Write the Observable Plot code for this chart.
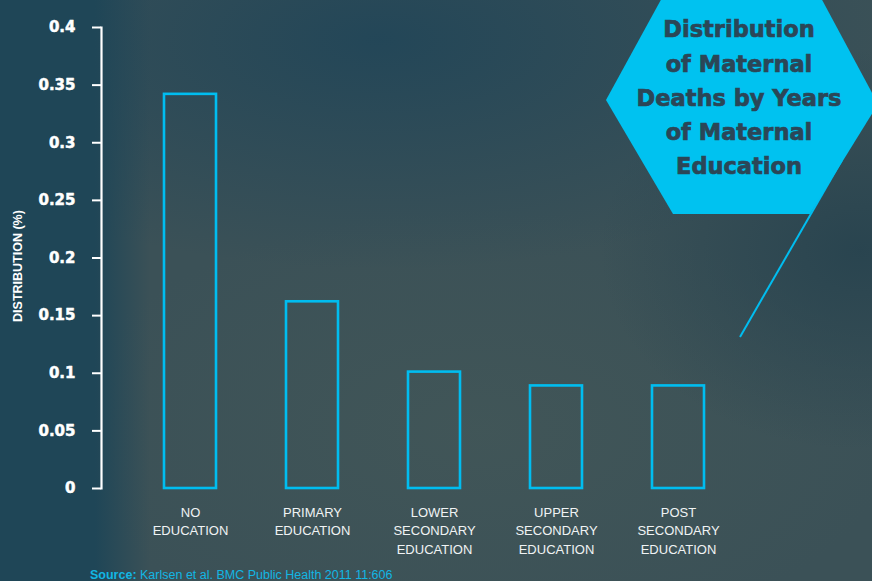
<!DOCTYPE html>
<html>
<head>
<meta charset="utf-8">
<script src="https://cdn.jsdelivr.net/npm/d3@7"></script>
<script src="https://cdn.jsdelivr.net/npm/@observablehq/plot@0.6"></script>
<style>
  html, body { margin: 0; padding: 0; }
  body { width: 872px; height: 581px; overflow: hidden; }
  #wrap {
    position: relative; width: 872px; height: 581px; overflow: hidden;
    background:
      linear-gradient(to right, #1f4657 0px, #1f4657 95px, rgba(31,70,87,0) 150px),
      radial-gradient(ellipse 520px 230px at 380px 40px, rgba(34,70,88,0.95), rgba(34,70,88,0)),
      radial-gradient(ellipse 260px 200px at 860px 250px, rgba(38,66,78,0.85), rgba(38,66,78,0)),
      radial-gradient(ellipse 420px 220px at 480px 430px, rgba(68,88,88,0.65), rgba(68,88,88,0)),
      #3b5157;
  }
  #chart { position: absolute; left: 0; top: 0; }
  #overlay { position: absolute; left: 0; top: 0; }
  #source {
    position: absolute; left: 90px; top: 568px;
    font: 12.5px "Liberation Sans", Arial, sans-serif; color: #12b6e4; white-space: nowrap;
  }
  #source b { font-weight: bold; }
</style>
</head>
<body>
<div id="wrap">
  <div id="chart"></div>
  <svg id="overlay" width="872" height="581"></svg>
  <div id="source"><b>Source:</b> Karlsen et al. BMC Public Health 2011 11:606</div>
</div>
<script>
const categories = ["NO EDUCATION", "PRIMARY EDUCATION", "LOWER SECONDARY EDUCATION", "UPPER SECONDARY EDUCATION", "POST SECONDARY EDUCATION"];
const tickLabels = ["NO\nEDUCATION", "PRIMARY\nEDUCATION", "LOWER\nSECONDARY\nEDUCATION", "UPPER\nSECONDARY\nEDUCATION", "POST\nSECONDARY\nEDUCATION"];
const values = [0.342, 0.162, 0.101, 0.089, 0.089];
const yTicks = [0, 0.05, 0.1, 0.15, 0.2, 0.25, 0.3, 0.35, 0.4];
const yTickLabels = ["0", "0.05", "0.1", "0.15", "0.2", "0.25", "0.3", "0.35", "0.4"];
const titleLines = ["Distribution", "of Maternal", "Deaths by Years", "of Maternal", "Education"];
const yLabel = "DISTRIBUTION (%)";

const data = categories.map((c, i) => ({category: c, value: values[i]}));
const cyan = "#00bdf0";

const chart = Plot.plot({
  width: 872,
  height: 581,
  marginTop: 27,
  marginBottom: 93,
  marginLeft: 101,
  marginRight: 0,
  style: {background: "transparent", overflow: "visible"},
  x: {type: "band", domain: categories, range: [128.25, 740.75], paddingInner: 0.571, paddingOuter: 0.2857},
  y: {domain: [0, 0.4]},
  marks: [
    Plot.barY(data, {x: "category", y: "value", fill: "none", stroke: cyan, strokeWidth: 2.6}),
    Plot.frame({anchor: "left", stroke: "white", strokeWidth: 2.2}),
    Plot.axisY({
      ticks: yTicks, tickSize: 9, text: null, stroke: "white", strokeWidth: 2, strokeOpacity: 1, label: null
    }),
    Plot.text(yTicks, {
      y: d => d, frameAnchor: "left", dx: -26, textAnchor: "end", lineAnchor: "middle",
      text: (d, i) => yTickLabels[i],
      fill: "white", stroke: "white", strokeWidth: 0.5, fontSize: 15, fontWeight: "bold", fontFamily: "DejaVu Sans"
    }),
    Plot.axisX({
      tickSize: 0, tickPadding: 15,
      tickFormat: d => tickLabels[categories.indexOf(d)],
      fill: "#f0f3f4", fontSize: 13, lineHeight: 1.42, fontFamily: "Liberation Sans", label: null
    }),
    Plot.text([yLabel], {
      frameAnchor: "left", textAnchor: "middle", lineAnchor: "middle", dx: -84, dy: 8, rotate: -90, text: d => d,
      fill: "white", fontSize: 12.5, fontWeight: "bold", fontFamily: "Liberation Sans"
    })
  ]
});
document.getElementById("chart").appendChild(chart);

// Title hexagon overlay
const ov = d3.select("#overlay");
ov.append("line").attr("x1", 842).attr("y1", 160).attr("x2", 740).attr("y2", 337)
  .attr("stroke", cyan).attr("stroke-width", 2);
ov.append("polygon")
  .attr("points", "663,-4 820,-4 878,104 810,214 673,214 606,100")
  .attr("fill", "#00c2f0");
const baselines = [37, 72, 106, 140, 174];
ov.selectAll("text.t").data(titleLines).join("text")
  .attr("class", "t")
  .attr("x", 739)
  .attr("y", (d, i) => baselines[i])
  .attr("text-anchor", "middle")
  .attr("font-family", "DejaVu Sans")
  .attr("font-weight", "bold")
  .attr("font-size", 22.5)
  .attr("fill", "#2b4657")
  .attr("stroke", "#2b4657")
  .attr("stroke-width", 0.7)
  .text(d => d);
</script>
</body>
</html>
